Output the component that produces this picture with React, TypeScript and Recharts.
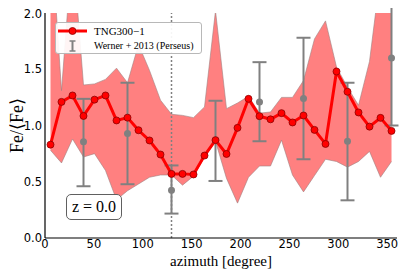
import React from "react";
import {
  ComposedChart,
  Area,
  Line,
  Scatter,
  ErrorBar,
  XAxis,
  YAxis,
  ReferenceLine,
  Legend,
  Label,
} from "recharts";

// TNG300-1 azimuthal bins
const azimuth = [
  5.625, 16.875, 28.125, 39.375, 50.625, 61.875, 73.125, 84.375, 95.625, 106.875,
  118.125, 129.375, 140.625, 151.875, 163.125, 174.375, 185.625, 196.875, 208.125,
  219.375, 230.625, 241.875, 253.125, 264.375, 275.625, 286.875, 298.125, 309.375,
  320.625, 331.875, 343.125, 354.375,
];
const feMean = [
  0.83, 1.21, 1.267, 1.085, 1.23, 1.267, 1.045, 1.07, 0.958, 0.867, 0.742, 0.57,
  0.57, 0.565, 0.733, 0.87, 0.747, 0.979, 1.237, 1.083, 1.055, 1.11, 1.027, 1.089,
  0.961, 0.836, 1.48, 1.3, 1.116, 0.99, 1.068, 0.952,
];
const feLow = [
  0.78, 0.667, 0.88, 0.72, 0.75, 0.6, 0.34, 0.42, 0.48, 0.54, 0.56, 0.56, 0.47,
  0.55, 0.72, 0.86, 0.53, 0.31, 0.54, 0.64, 0.64, 0.87, 0.56, 0.41, 0.555, 0.7,
  0.68, 0.63, 0.68, 0.77, 0.54, 0.68,
];
const feHigh = [
  2.8, 1.31, 2.6, 1.36, 1.37, 1.41, 1.51, 1.38, 1.72, 1.49, 1.225, 1.1, 1.09, 1.07,
  1.165, 2.02, 1.15, 1.2, 1.26, 1.11, 1.12, 1.25, 1.25, 1.4, 1.77, 1.93, 1.52, 1.34,
  1.18, 1.57, 2.35, 2.4,
];

// Werner + 2013 (Perseus)
const wernerAz = [39.375, 84.375, 129.375, 174.375, 219.375, 264.375, 309.375, 354.375];
const wernerFe = [0.855, 0.93, 0.424, 0.87, 1.21, 1.24, 0.86, 1.6];
const wernerLow = [0.46, 0.478, 0.217, 0.507, 0.86, 0.7, 0.335, 1.0];
const wernerHigh = [1.237, 1.38, 0.645, 1.22, 1.563, 1.78, 1.38, 2.2];

const xTicks = [0, 50, 100, 150, 200, 250, 300, 350];
const yTicks = [0, 0.5, 1.0, 1.5, 2.0];
const markAz = 129.375;

const data = azimuth.map((az, i) => ({
  az,
  fe: feMean[i],
  band: [feLow[i], feHigh[i]],
}));

const werner = wernerAz.map((az, i) => ({
  az,
  fe: wernerFe[i],
  err: [wernerFe[i] - wernerLow[i], wernerHigh[i] - wernerFe[i]],
}));

const serif = "'Liberation Serif', 'Times New Roman', serif";
const sans = "'DejaVu Sans', sans-serif";

const LegendBox = () => (
  <div
    style={{
      width: 145,
      height: 30,
      border: "1px solid #b8b8b8",
      borderRadius: 3,
      background: "rgba(255,255,255,0.92)",
      fontFamily: serif,
      fontSize: 10,
      color: "#000",
      whiteSpace: "nowrap",
    }}
  >
    <div style={{ display: "flex", alignItems: "center", height: 15, marginTop: 0 }}>
      <svg width={38} height={14} style={{ flex: "none" }}>
        <line x1={2} y1={7} x2={31} y2={7} stroke="#ff0000" strokeWidth={3} />
        <circle cx={16.5} cy={7} r={3.5} fill="#ff0000" stroke="#8b0000" strokeWidth={0.8} />
      </svg>
      <span style={{ fontSize: 11 }}>TNG300−1</span>
    </div>
    <div style={{ display: "flex", alignItems: "center", height: 15 }}>
      <svg width={38} height={14} style={{ flex: "none" }}>
        <line x1={16.5} y1={2} x2={16.5} y2={12} stroke="#808080" strokeWidth={2} />
        <line x1={13.5} y1={2} x2={19.5} y2={2} stroke="#808080" strokeWidth={1.5} />
        <line x1={13.5} y1={12} x2={19.5} y2={12} stroke="#808080" strokeWidth={1.5} />
      </svg>
      <span>Werner + 2013 (Perseus)</span>
    </div>
  </div>
);

const YLabel = ({ viewBox }: any) => {
  const cy = viewBox.y + viewBox.height / 2;
  const x = 15;
  return (
    <text
      x={x}
      y={cy}
      transform={`rotate(-90, ${x}, ${cy})`}
      textAnchor="middle"
      fontFamily={serif}
      fontSize={18}
      fill="#000"
    >
      Fe/⟨Fe⟩
    </text>
  );
};

const XLabel = ({ viewBox }: any) => (
  <text
    x={viewBox.x + viewBox.width / 2}
    y={257.5}
    textAnchor="middle"
    fontFamily={serif}
    fontSize={15}
    fill="#000"
  >
    azimuth [degree]
  </text>
);

export default function App() {
  return (
    <div style={{ position: "relative", width: 399, height: 263 }}>
      <ComposedChart
        width={399}
        height={263}
        data={data}
        margin={{ top: 5, right: 10, bottom: 0, left: 0 }}
      >
        <XAxis
          dataKey="az"
          type="number"
          domain={[0, 360]}
          ticks={xTicks}
          allowDataOverflow
          height={33}
          tickLine={false}
          tickSize={0}
          tickMargin={2}
          axisLine={{ stroke: "#000", strokeWidth: 1.2 }}
          tick={{ fill: "#000", fontSize: 11.5, fontFamily: sans }}
        >
          <Label content={<XLabel />} />
        </XAxis>
        <XAxis
          xAxisId="xb"
          dataKey="az"
          type="number"
          domain={[0, 360]}
          ticks={xTicks}
          height={0}
          mirror
          tick={false}
          tickSize={4}
          axisLine={false}
          tickLine={{ stroke: "#000" }}
        />
        <XAxis
          xAxisId="xt"
          orientation="top"
          dataKey="az"
          type="number"
          domain={[0, 360]}
          ticks={xTicks}
          height={0}
          mirror
          tick={false}
          tickSize={4}
          axisLine={{ stroke: "#000", strokeWidth: 1.2 }}
          tickLine={{ stroke: "#000" }}
        />
        <YAxis
          type="number"
          domain={[0, 2]}
          ticks={yTicks}
          allowDataOverflow
          width={37}
          tickLine={false}
          tickSize={0}
          tickMargin={3}
          axisLine={{ stroke: "#000", strokeWidth: 1.2 }}
          tick={{ fill: "#000", fontSize: 11.5, fontFamily: sans }}
          tickFormatter={(v: number) => v.toFixed(1)}
        >
          <Label content={<YLabel />} />
        </YAxis>
        <YAxis
          yAxisId="yl"
          type="number"
          domain={[0, 2]}
          ticks={yTicks}
          width={0}
          mirror
          tick={false}
          tickSize={4}
          axisLine={false}
          tickLine={{ stroke: "#000" }}
        />
        <YAxis
          yAxisId="yr"
          orientation="right"
          type="number"
          domain={[0, 2]}
          ticks={yTicks}
          width={0}
          mirror
          tick={false}
          tickSize={4}
          axisLine={{ stroke: "#000", strokeWidth: 1.2 }}
          tickLine={{ stroke: "#000" }}
        />
        <Area
          dataKey="band"
          type="linear"
          fill="#ff8080"
          fillOpacity={1}
          stroke="#a08080"
          strokeWidth={0.6}
          isAnimationActive={false}
          legendType="none"
        />
        <ReferenceLine
          x={markAz}
          stroke="#808080"
          strokeWidth={1.5}
          strokeDasharray="2 2"
        />
        <Scatter
          data={werner}
          dataKey="fe"
          isAnimationActive={false}
          shape={(p: any) => <circle cx={p.cx} cy={p.cy} r={3.5} fill="#808080" />}
        >
          <ErrorBar
            dataKey="err"
            direction="y"
            width={7}
            stroke="#808080"
            strokeWidth={2}
            isAnimationActive={false}
          />
        </Scatter>
        <Line
          dataKey="fe"
          type="linear"
          stroke="#ff0000"
          strokeWidth={3}
          dot={{ r: 3.5, fill: "#ff0000", stroke: "#8b0000", strokeWidth: 0.8 }}
          isAnimationActive={false}
        />
        <Legend
          layout="vertical"
          align="center"
          verticalAlign="middle"
          content={<LegendBox />}
          wrapperStyle={{ left: 47, top: 14, width: "auto" }}
        />
      </ComposedChart>
      <div
        style={{
          position: "absolute",
          left: 58,
          top: 186,
          width: 54,
          height: 24,
          border: "1px solid #606060",
          borderRadius: 5,
          background: "#fff",
          fontFamily: serif,
          fontSize: 16,
          lineHeight: "24px",
          textAlign: "center",
        }}
      >
        z = 0.0
      </div>
    </div>
  );
}
